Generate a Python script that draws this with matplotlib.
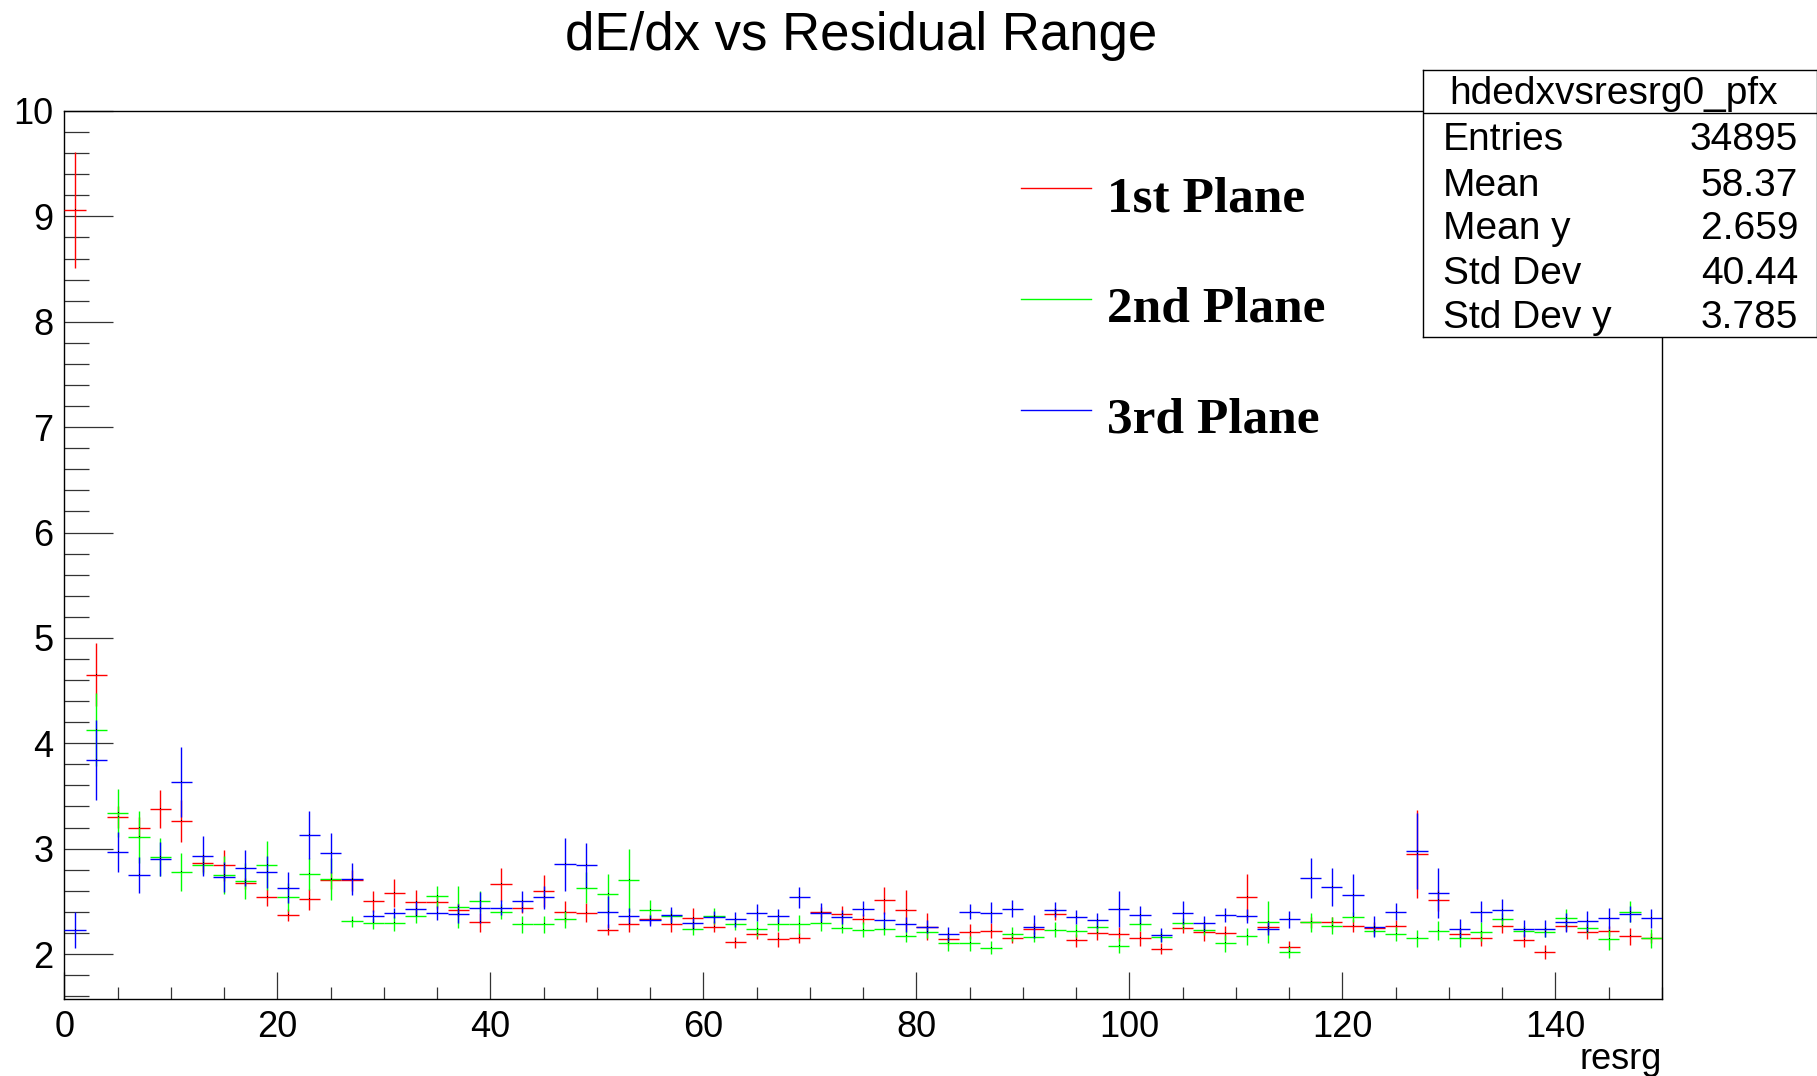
import numpy as np
import matplotlib
matplotlib.use("Agg")
import matplotlib.pyplot as plt
from matplotlib.lines import Line2D

# Profile binning: 75 bins from 0 to 150
n_bins = 75
x_min, x_max = 0.0, 150.0
bin_half = (x_max - x_min) / n_bins / 2.0
centers = np.linspace(x_min + bin_half, x_max - bin_half, n_bins)

# 1st plane (red)
red_y = [9.06, 4.65, 3.30, 3.20, 3.38, 3.26, 2.86, 2.84, 2.67, 2.54,
         2.37, 2.52, 2.70, 2.70, 2.50, 2.58, 2.49, 2.49, 2.42, 2.30,
         2.66, 2.44, 2.60, 2.40, 2.39, 2.23, 2.28, 2.33, 2.28, 2.34,
         2.26, 2.11, 2.19, 2.14, 2.15, 2.40, 2.38, 2.33, 2.51, 2.42,
         2.26, 2.14, 2.21, 2.22, 2.15, 2.24, 2.38, 2.13, 2.20, 2.19,
         2.15, 2.05, 2.25, 2.21, 2.20, 2.54, 2.26, 2.07, 2.30, 2.30,
         2.27, 2.25, 2.27, 2.95, 2.51, 2.19, 2.15, 2.27, 2.13, 2.02,
         2.27, 2.21, 2.22, 2.17, 2.15]
red_err = [0.55, 0.30, 0.10, 0.10, 0.18, 0.20, 0.08, 0.15, 0.05, 0.08,
           0.06, 0.10, 0.08, 0.10, 0.10, 0.13, 0.12, 0.06, 0.06, 0.09,
           0.16, 0.05, 0.15, 0.10, 0.09, 0.05, 0.07, 0.05, 0.07, 0.10,
           0.05, 0.05, 0.05, 0.07, 0.05, 0.05, 0.08, 0.05, 0.13, 0.19,
           0.13, 0.05, 0.07, 0.07, 0.05, 0.05, 0.06, 0.06, 0.07, 0.07,
           0.07, 0.05, 0.05, 0.09, 0.07, 0.22, 0.05, 0.05, 0.05, 0.05,
           0.06, 0.05, 0.05, 0.42, 0.10, 0.05, 0.07, 0.07, 0.06, 0.07,
           0.05, 0.07, 0.05, 0.08, 0.05]

# 2nd plane (green), first bin empty
green_y = [np.nan, 4.13, 3.34, 3.11, 2.92, 2.78, 2.84, 2.75, 2.69, 2.84,
           2.54, 2.76, 2.71, 2.31, 2.29, 2.29, 2.36, 2.55, 2.45, 2.50,
           2.40, 2.28, 2.28, 2.33, 2.63, 2.57, 2.70, 2.42, 2.36, 2.24,
           2.36, 2.28, 2.24, 2.28, 2.28, 2.29, 2.25, 2.23, 2.24, 2.17,
           2.21, 2.10, 2.10, 2.06, 2.19, 2.16, 2.23, 2.22, 2.26, 2.08,
           2.28, 2.16, 2.29, 2.23, 2.10, 2.17, 2.30, 2.02, 2.30, 2.27,
           2.35, 2.22, 2.19, 2.15, 2.22, 2.15, 2.21, 2.33, 2.22, 2.21,
           2.34, 2.25, 2.14, 2.40, 2.15]
green_err = [0.0, 0.35, 0.23, 0.25, 0.18, 0.18, 0.08, 0.18, 0.17, 0.23,
             0.13, 0.15, 0.20, 0.05, 0.05, 0.07, 0.07, 0.10, 0.20, 0.10,
             0.07, 0.08, 0.08, 0.08, 0.15, 0.19, 0.30, 0.09, 0.06, 0.06,
             0.08, 0.05, 0.07, 0.06, 0.09, 0.07, 0.05, 0.07, 0.06, 0.06,
             0.06, 0.07, 0.07, 0.06, 0.07, 0.05, 0.07, 0.06, 0.06, 0.07,
             0.06, 0.05, 0.05, 0.05, 0.08, 0.08, 0.20, 0.06, 0.09, 0.08,
             0.05, 0.05, 0.07, 0.08, 0.09, 0.08, 0.09, 0.06, 0.05, 0.05,
             0.09, 0.05, 0.10, 0.10, 0.09]

# 3rd plane (blue)
blue_y = [2.23, 3.84, 2.97, 2.75, 2.90, 3.63, 2.93, 2.73, 2.82, 2.78,
          2.63, 3.13, 2.96, 2.71, 2.36, 2.39, 2.43, 2.39, 2.38, 2.44,
          2.44, 2.50, 2.54, 2.85, 2.84, 2.40, 2.36, 2.32, 2.37, 2.29,
          2.35, 2.33, 2.39, 2.36, 2.54, 2.39, 2.35, 2.43, 2.32, 2.28,
          2.26, 2.19, 2.40, 2.39, 2.43, 2.26, 2.42, 2.35, 2.32, 2.43,
          2.37, 2.18, 2.39, 2.29, 2.37, 2.36, 2.24, 2.33, 2.72, 2.64,
          2.56, 2.26, 2.40, 2.98, 2.58, 2.24, 2.40, 2.42, 2.24, 2.24,
          2.30, 2.31, 2.34, 2.38, 2.34]
blue_err = [0.17, 0.38, 0.19, 0.17, 0.16, 0.33, 0.19, 0.14, 0.17, 0.15,
            0.15, 0.23, 0.19, 0.15, 0.06, 0.05, 0.07, 0.07, 0.09, 0.15,
            0.07, 0.10, 0.11, 0.25, 0.21, 0.15, 0.08, 0.05, 0.08, 0.05,
            0.06, 0.07, 0.08, 0.07, 0.10, 0.09, 0.07, 0.07, 0.08, 0.07,
            0.06, 0.07, 0.07, 0.10, 0.08, 0.11, 0.07, 0.07, 0.07, 0.17,
            0.09, 0.07, 0.11, 0.07, 0.07, 0.07, 0.06, 0.08, 0.19, 0.18,
            0.20, 0.10, 0.08, 0.36, 0.24, 0.09, 0.10, 0.10, 0.08, 0.08,
            0.09, 0.10, 0.10, 0.08, 0.09]

series_labels = ["1st Plane", "2nd Plane", "3rd Plane"]
series_colors = ["#ff0000", "#00ff00", "#0000ff"]

stat_names = ["Entries", "Mean", "Mean y", "Std Dev", "Std Dev y"]
stat_values = ["34895", "58.37", "2.659", "40.44", "3.785"]


def main():
    W, H = 1817, 1076
    fig = plt.figure(figsize=(W / 100, H / 100), dpi=100)
    fig.patch.set_facecolor("white")
    plt.rcParams["font.family"] = ["Liberation Sans", "DejaVu Sans"]

    # plot frame in pixel coordinates of the reference
    left, right, top, bottom = 64.3, 1662, 111, 999
    ax = fig.add_axes([left / W, 1 - bottom / H, (right - left) / W, (bottom - top) / H])

    datasets = [(red_y, red_err), (green_y, green_err), (blue_y, blue_err)]
    for (vals, errs), col in zip(datasets, series_colors):
        ax.errorbar(centers, vals, xerr=bin_half, yerr=errs, fmt=",", color="black",
                    ecolor=col, elinewidth=1.0, capsize=0, zorder=3)

    ax.set_xlim(x_min, x_max)
    ax.set_ylim(1.573, 10)

    ax.xaxis.set_major_locator(matplotlib.ticker.MultipleLocator(20))
    ax.xaxis.set_minor_locator(matplotlib.ticker.MultipleLocator(5))
    ax.yaxis.set_major_locator(matplotlib.ticker.MultipleLocator(1))
    ax.yaxis.set_minor_locator(matplotlib.ticker.MultipleLocator(0.2))
    ax.xaxis.set_ticks_position("bottom")
    ax.yaxis.set_ticks_position("left")
    ax.tick_params(axis="y", which="major", direction="in", length=35, width=0.9,
                   labelsize=26, pad=8, color="#333333")
    ax.tick_params(axis="y", which="minor", direction="in", length=18, width=0.9, color="#333333")
    ax.tick_params(axis="x", which="major", direction="in", length=19.4, width=0.9,
                   labelsize=26, pad=8, color="#333333")
    ax.tick_params(axis="x", which="minor", direction="in", length=8.6, width=0.9, color="#333333")
    for sp in ax.spines.values():
        sp.set_linewidth(1.0)
        sp.set_color("black")

    # axis title sits at the right end, below the tick labels
    ax.set_xlabel("resrg", fontsize=26, ha="right", va="baseline")
    ax.xaxis.set_label_coords(1.0, -(1069 - bottom) / (bottom - top))

    # title
    fig.text(861 / W, 1 - 36 / H, "dE/dx vs Residual Range", ha="center", va="center",
             fontsize=38)

    # legend (ROOT TLegend style)
    leg_y = [188.3, 298.7, 410.0]
    for lab, col, yy in zip(series_labels, series_colors, leg_y):
        fig.add_artist(Line2D([1020.7 / W, 1090.7 / W], [1 - yy / H, 1 - yy / H],
                              color=col, lw=1.0, transform=fig.transFigure))
        fig.text(1107 / W, 1 - (yy + 23) / H, lab, ha="left", va="baseline",
                 fontsize=37, fontweight="bold", family="Liberation Serif")

    # statistics box
    bx0, bx1, by0, by1 = 1422.7, 1817, 70, 336.7
    sax = fig.add_axes([bx0 / W, 1 - by1 / H, (bx1 - bx0) / W, (by1 - by0) / H])
    sax.set_xlim(0, 1)
    sax.set_ylim(0, 1)
    sax.set_xticks([])
    sax.set_yticks([])
    sax.set_facecolor("white")
    for sp in sax.spines.values():
        sp.set_linewidth(1.0)
        sp.set_color("black")
    sax.axhline(0.840, color="black", lw=1.0)
    sax.text(0.483, 0.872, "hdedxvsresrg0_pfx", ha="center", va="baseline", fontsize=28)
    row_y = [0.700, 0.528, 0.368, 0.196, 0.034]
    for name, val, yy in zip(stat_names, stat_values, row_y):
        sax.text(0.0515, yy, name, ha="left", va="baseline", fontsize=28)
        sax.text(0.952, yy, val, ha="right", va="baseline", fontsize=28)

    fig.savefig("out.png", dpi=100)
    plt.close(fig)


if __name__ == "__main__":
    main()
